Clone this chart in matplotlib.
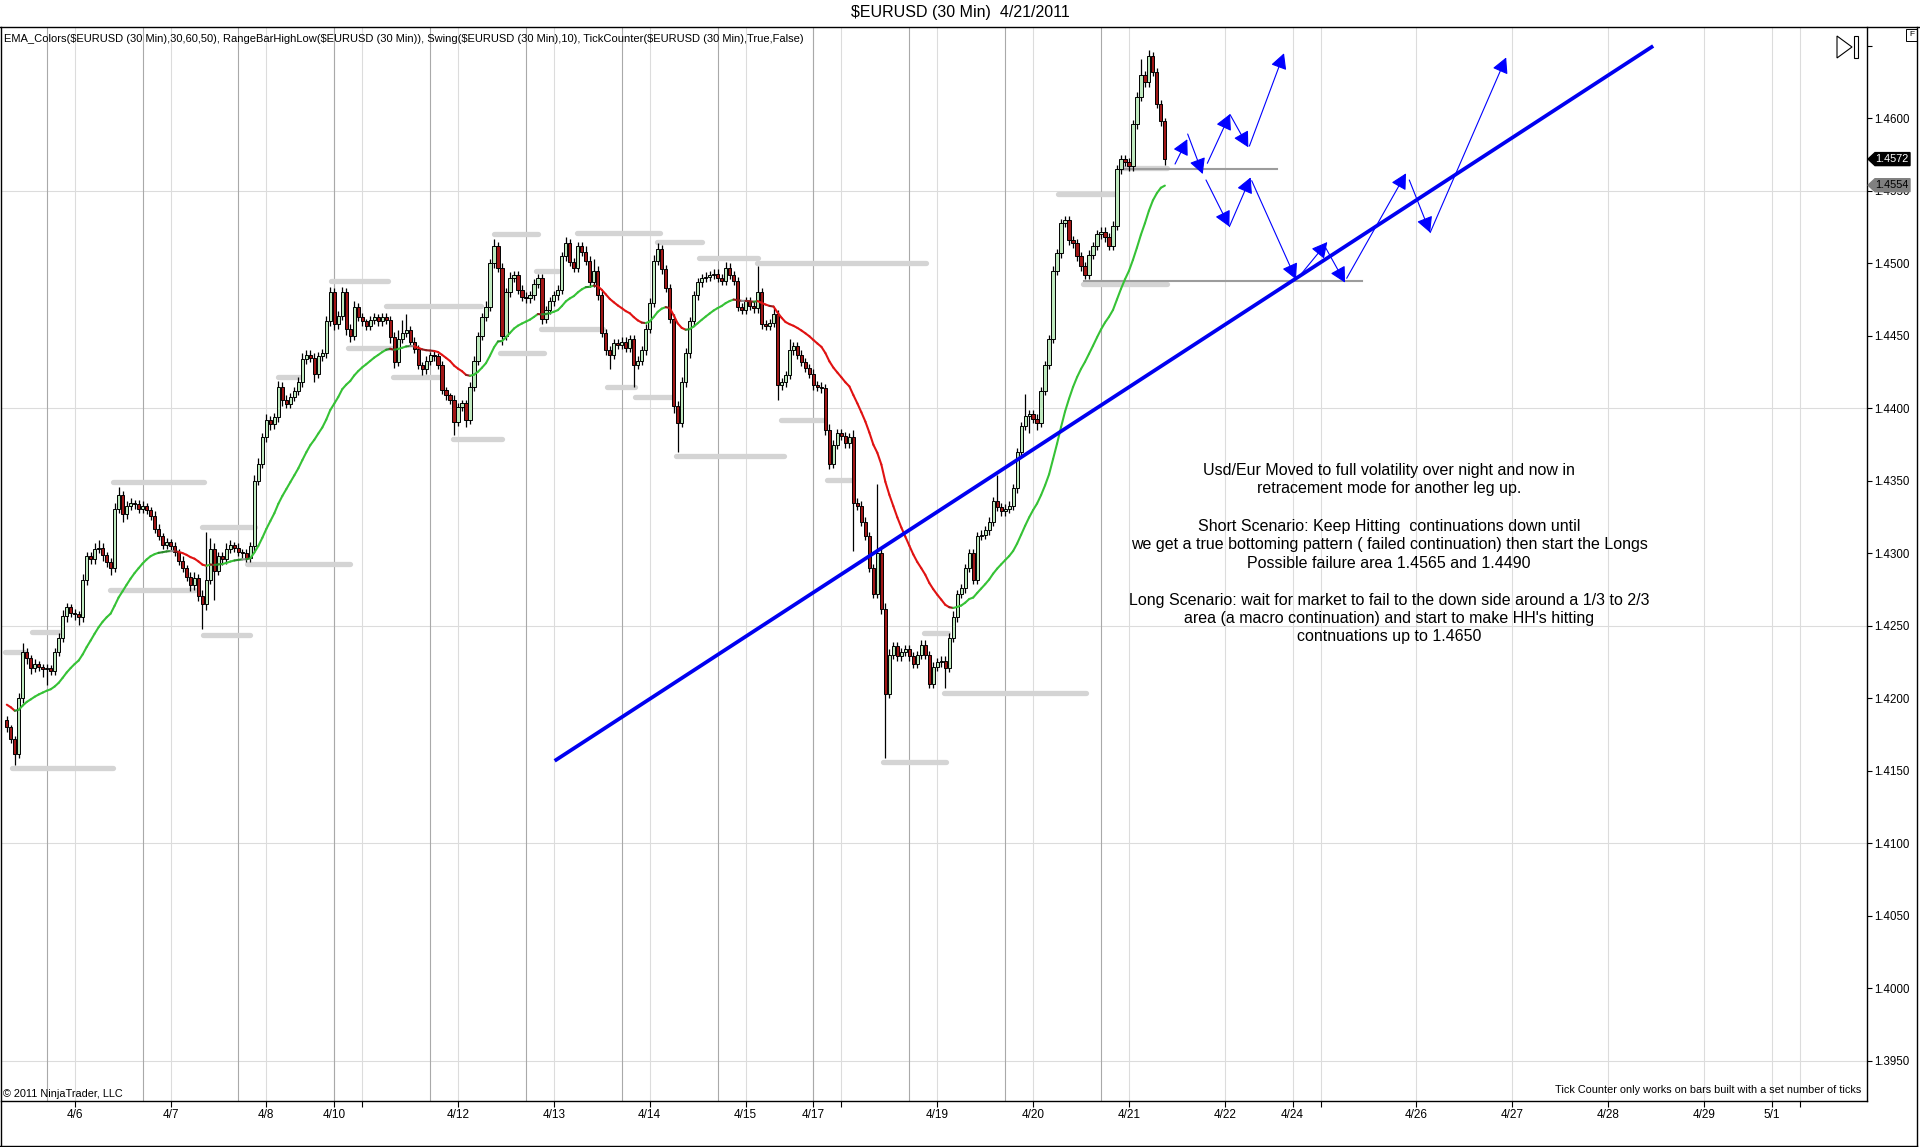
import numpy as np
import pandas as pd
import matplotlib
matplotlib.use("Agg")
import matplotlib.pyplot as plt
from matplotlib.patches import Rectangle, Polygon, FancyArrowPatch
from matplotlib.collections import LineCollection
from matplotlib.lines import Line2D

plt.rcParams['font.family'] = ['Liberation Sans', 'DejaVu Sans']

# ------------------------------------------------------------------ data
title_text = "$EURUSD (30 Min)  4/21/2011"
indicator_text = ("EMA_Colors($EURUSD (30 Min),30,60,50), RangeBarHighLow($EURUSD (30 Min)), "
                  "Swing($EURUSD (30 Min),10), TickCounter($EURUSD (30 Min),True,False)")
copyright_text = "\u00a9 2011 NinjaTrader, LLC"
tickcounter_text = "Tick Counter only works on bars built with a set number of ticks"

origin_time = "2011-04-05 00:00"
first_bar_time = "2011-04-05 07:00"
first_open = 1.4185

close = [
    1.4180, 1.4172, 1.4162, 1.4200, 1.4232, 1.4228, 1.4221, 1.4224, 1.4222, 1.4220, 1.4221, 1.4219,
    1.4232, 1.4242, 1.4257, 1.4263, 1.4259, 1.4258, 1.4256, 1.4282, 1.4298, 1.4296, 1.4303, 1.4304,
    1.4299, 1.4294, 1.4290, 1.4331, 1.4340, 1.4327, 1.4333, 1.4335, 1.4334, 1.4331, 1.4333, 1.4330,
    1.4326, 1.4317, 1.4312, 1.4306, 1.4308, 1.4305, 1.4301, 1.4295, 1.4290, 1.4284, 1.4278, 1.4283,
    1.4271, 1.4265, 1.4282, 1.4303, 1.4288, 1.4298, 1.4296, 1.4303, 1.4306, 1.4304, 1.4301, 1.4300,
    1.4297, 1.4305, 1.4350, 1.4362, 1.4380, 1.4392, 1.4389, 1.4394, 1.4415, 1.4406, 1.4403, 1.4408,
    1.4412, 1.4418, 1.4434, 1.4437, 1.4435, 1.4424, 1.4436, 1.4438, 1.4460, 1.4480, 1.4458, 1.4464,
    1.4480, 1.4455, 1.4450, 1.4470, 1.4463, 1.4460, 1.4457, 1.4461, 1.4463, 1.4460, 1.4463, 1.4461,
    1.4449, 1.4432, 1.4448, 1.4452, 1.4454, 1.4446, 1.4441, 1.4430, 1.4427, 1.4433, 1.4437, 1.4436,
    1.4430, 1.4413, 1.4409, 1.4406, 1.4391, 1.4401, 1.4404, 1.4392, 1.4415, 1.4433, 1.4450, 1.4463,
    1.4470, 1.4500, 1.4512, 1.4497, 1.4450, 1.4480, 1.4490, 1.4492, 1.4482, 1.4477, 1.4476, 1.4478,
    1.4486, 1.4490, 1.4462, 1.4468, 1.4474, 1.4478, 1.4482, 1.4505, 1.4514, 1.4501, 1.4497, 1.4512,
    1.4508, 1.4502, 1.4487, 1.4495, 1.4478, 1.4452, 1.4440, 1.4437, 1.4445, 1.4444, 1.4446, 1.4442,
    1.4448, 1.4430, 1.4433, 1.4440, 1.4455, 1.4473, 1.4502, 1.4510, 1.4496, 1.4483, 1.4462, 1.4402,
    1.4390, 1.4418, 1.4438, 1.4460, 1.4478, 1.4487, 1.4490, 1.4491, 1.4492, 1.4493, 1.4490, 1.4488,
    1.4497, 1.4492, 1.4488, 1.4470, 1.4468, 1.4474, 1.4471, 1.4469, 1.4480, 1.4458, 1.4457, 1.4459,
    1.4465, 1.4416, 1.4418, 1.4423, 1.4440, 1.4443, 1.4437, 1.4432, 1.4428, 1.4424, 1.4416, 1.4415,
    1.4414, 1.4385, 1.4362, 1.4375, 1.4383, 1.4381, 1.4376, 1.4380, 1.4335, 1.4333, 1.4322, 1.4312,
    1.4290, 1.4272, 1.4300, 1.4262, 1.4203, 1.4230, 1.4236, 1.4229, 1.4232, 1.4234, 1.4229, 1.4224,
    1.4230, 1.4237, 1.4230, 1.4210, 1.4222, 1.4225, 1.4226, 1.4221, 1.4242, 1.4256, 1.4272, 1.4276,
    1.4290, 1.4300, 1.4282, 1.4312, 1.4313, 1.4316, 1.4322, 1.4336, 1.4332, 1.4329, 1.4331, 1.4333,
    1.4345, 1.4370, 1.4388, 1.4395, 1.4396, 1.4393, 1.4390, 1.4412, 1.4430, 1.4448, 1.4495, 1.4507,
    1.4528, 1.4530, 1.4516, 1.4514, 1.4505, 1.4498, 1.4492, 1.4506, 1.4512, 1.4520, 1.4522, 1.4518,
    1.4512, 1.4526, 1.4565, 1.4572, 1.4570, 1.4567, 1.4596, 1.4615, 1.4630, 1.4625, 1.4643, 1.4632,
    1.4610, 1.4598, 1.4572,
]

wick_up_pips = [
    3, 2, 2, 4, 6, 3, 2, 3, 2, 2, 3, 2,
    3, 3, 4, 3, 2, 3, 2, 4, 3, 3, 4, 5,
    3, 2, 3, 4, 6, 3, 3, 3, 2, 3, 3, 2,
    2, 3, 3, 2, 3, 2, 3, 2, 3, 2, 3, 4,
    3, 4, 33, 8, 4, 3, 3, 4, 3, 2, 3, 2,
    3, 3, 4, 4, 3, 4, 3, 3, 4, 3, 3, 3,
    3, 4, 4, 3, 3, 3, 3, 3, 4, 4, 3, 3,
    4, 3, 3, 4, 3, 3, 2, 3, 3, 2, 3, 3,
    3, 4, 6, 9, 11, 3, 3, 3, 2, 3, 2, 3,
    2, 3, 2, 2, 3, 3, 2, 2, 3, 3, 3, 3,
    4, 3, 5, 3, 3, 3, 4, 3, 3, 3, 3, 3,
    3, 3, 3, 3, 3, 3, 3, 3, 4, 3, 3, 3,
    3, 4, 3, 8, 3, 3, 3, 3, 3, 3, 3, 3,
    3, 3, 3, 3, 3, 3, 4, 4, 3, 3, 3, 3,
    3, 4, 4, 3, 3, 3, 3, 3, 3, 3, 3, 3,
    4, 3, 3, 3, 3, 3, 3, 3, 18, 3, 3, 3,
    4, 3, 3, 3, 8, 3, 3, 3, 3, 3, 3, 3,
    3, 3, 4, 3, 3, 3, 3, 3, 5, 3, 3, 3,
    3, 3, 48, 3, 4, 4, 3, 3, 3, 3, 3, 3,
    3, 3, 3, 3, 3, 3, 3, 3, 3, 4, 3, 3,
    3, 3, 3, 3, 3, 3, 3, 3, 18, 3, 3, 3,
    3, 3, 3, 15, 3, 3, 3, 3, 3, 3, 3, 3,
    3, 3, 3, 3, 3, 3, 3, 3, 3, 3, 3, 3,
    3, 3, 3, 3, 3, 3, 3, 3, 11, 3, 4, 3,
    3, 3, 2,
]

wick_dn_pips = [
    3, 3, 8, 3, 3, 4, 4, 3, 3, 5, 11, 3,
    3, 3, 3, 4, 3, 4, 5, 3, 4, 3, 3, 3,
    4, 3, 5, 3, 3, 5, 3, 3, 3, 3, 3, 3,
    3, 3, 3, 3, 3, 3, 3, 3, 3, 3, 4, 3,
    4, 17, 4, 3, 20, 3, 4, 3, 3, 3, 3, 3,
    3, 3, 3, 3, 3, 3, 4, 3, 3, 4, 3, 3,
    3, 3, 3, 3, 3, 6, 3, 3, 3, 3, 4, 3,
    3, 4, 4, 3, 3, 3, 3, 3, 3, 3, 3, 3,
    4, 4, 3, 3, 3, 3, 3, 3, 4, 3, 3, 3,
    3, 3, 3, 3, 9, 3, 3, 5, 3, 3, 3, 3,
    3, 3, 3, 3, 6, 3, 3, 3, 3, 3, 3, 3,
    3, 3, 4, 3, 3, 3, 3, 3, 3, 3, 3, 3,
    3, 3, 3, 3, 3, 3, 3, 10, 3, 3, 3, 3,
    3, 15, 3, 3, 3, 3, 3, 3, 3, 3, 3, 5,
    20, 3, 3, 3, 3, 3, 3, 3, 3, 3, 3, 3,
    3, 3, 3, 3, 3, 3, 3, 3, 3, 3, 3, 3,
    3, 10, 3, 3, 3, 3, 3, 3, 3, 3, 3, 3,
    3, 3, 4, 3, 3, 3, 3, 3, 33, 3, 3, 3,
    3, 3, 3, 4, 44, 3, 3, 3, 3, 3, 3, 3,
    3, 3, 3, 3, 3, 3, 3, 14, 3, 3, 3, 3,
    3, 3, 3, 3, 3, 3, 3, 3, 3, 3, 3, 3,
    3, 3, 3, 3, 12, 3, 5, 3, 3, 3, 3, 3,
    3, 3, 3, 3, 3, 3, 3, 3, 3, 3, 3, 3,
    3, 3, 3, 3, 3, 3, 3, 3, 3, 3, 3, 3,
    3, 3, 4,
]

ema_seed = 1.4197
ema_alpha = 0.075

weekend_gaps = [
    ("2011-04-08 17:00", "2011-04-10 17:00"),
    ("2011-04-15 17:00", "2011-04-17 17:00"),
    ("2011-04-22 17:00", "2011-04-24 17:00"),
    ("2011-04-29 17:00", "2011-05-01 17:00"),
]

x_tick_times = [
    "2011-04-06 00:00", "2011-04-07 00:00", "2011-04-08 00:00", "2011-04-10 17:00",
    "2011-04-11 00:00", "2011-04-12 00:00", "2011-04-13 00:00", "2011-04-14 00:00",
    "2011-04-15 00:00", "2011-04-17 17:00", "2011-04-18 00:00", "2011-04-19 00:00",
    "2011-04-20 00:00", "2011-04-21 00:00", "2011-04-22 00:00", "2011-04-24 17:00",
    "2011-04-25 00:00", "2011-04-26 00:00", "2011-04-27 00:00", "2011-04-28 00:00",
    "2011-04-29 00:00", "2011-05-01 17:00", "2011-05-02 00:00",
]
x_tick_labels = [
    "4/6", "4/7", "4/8", "4/10", "", "4/12", "4/13", "4/14", "4/15", "4/17", "",
    "4/19", "4/20", "4/21", "4/22", "4/24", "", "4/26", "4/27", "4/28", "4/29", "5/1", "",
]
session_times = [
    "2011-04-05 17:00", "2011-04-06 17:00", "2011-04-07 17:00", "2011-04-10 17:00",
    "2011-04-11 17:00", "2011-04-12 17:00", "2011-04-13 17:00", "2011-04-14 17:00",
    "2011-04-17 17:00", "2011-04-18 17:00", "2011-04-19 17:00", "2011-04-20 17:00",
]

y_tick_values = [1.3950, 1.4000, 1.4050, 1.4100, 1.4150, 1.4200, 1.4250, 1.4300,
                 1.4350, 1.4400, 1.4450, 1.4500, 1.4550, 1.4600, 1.4650]
y_tick_labels = ["1.3950", "1.4000", "1.4050", "1.4100", "1.4150", "1.4200", "1.4250", "1.4300",
                 "1.4350", "1.4400", "1.4450", "1.4500", "1.4550", "1.4600", ""]
y_grid_values = [1.3950, 1.4100, 1.4250, 1.4400, 1.4550]

# swing lines: price, start hour, end hour (hours on the compressed trading clock from origin)
swing_price = [1.4152, 1.4232, 1.4246, 1.4349, 1.4275, 1.4318, 1.4244, 1.4293, 1.4422, 1.4488,
               1.4471, 1.4442, 1.4422, 1.4379, 1.4520, 1.4438, 1.4495, 1.4455, 1.4521, 1.4415,
               1.4408, 1.4515, 1.4504, 1.4500, 1.4367, 1.4392, 1.4351, 1.4156, 1.4245, 1.4204,
               1.4548, 1.4486, 1.4566]
swing_start_h = [8.4, 6.5, 13.3, 33.5, 32.9, 55.9, 56.2, 67.2, 74.9, 88.1,
                 101.9, 92.4, 103.7, 118.7, 128.9, 130.4, 139.6, 140.8, 149.7, 157.4,
                 164.4, 169.9, 180.4, 194.8, 174.5, 200.9, 212.3, 226.4, 236.8, 241.7,
                 270.2, 276.6, 286.0]
swing_end_h = [33.5, 11.4, 20.3, 56.5, 54.1, 69.1, 67.8, 93.0, 80.7, 102.5,
               125.8, 103.4, 116.0, 131.0, 139.9, 141.4, 145.1, 156.4, 170.6, 164.4,
               173.9, 181.0, 195.1, 237.1, 201.5, 212.0, 219.0, 242.3, 242.6, 277.2,
               284.6, 297.5, 297.5]

# user drawn horizontal lines: price, start day, end day
hline_price = [1.4565, 1.4488]
hline_start_d = [11.92, 11.53]
hline_end_d = [13.54, 14.43]

# trend line (day, price)
trend_d = [6.008, 17.47]
trend_p = [1.4157, 1.4650]

# projected path arrows: (start day, start price, end day, end price)
arrow_d0 = [12.481, 12.613, 12.818, 13.055, 13.257, 12.804, 13.048, 13.281, 13.803, 14.046, 14.272, 14.925, 15.143]
arrow_p0 = [1.45686, 1.45893, 1.45691, 1.46027, 1.45810, 1.45576, 1.45254, 1.45571, 1.44932, 1.45116, 1.44898, 1.45576, 1.45213]
arrow_d1 = [12.609, 12.770, 13.055, 13.246, 13.618, 13.048, 13.270, 13.743, 14.070, 14.255, 14.891, 15.143, 15.936]
arrow_p1 = [1.45857, 1.45617, 1.46031, 1.45801, 1.46450, 1.45254, 1.45594, 1.44891, 1.45148, 1.44868, 1.45622, 1.45213, 1.46421]

note_lines = [
    "Usd/Eur Moved to full volatility over night and now in",
    "retracement mode for another leg up.",
    "Short Scenario: Keep Hitting  continuations down until",
    "we get a true bottoming pattern ( failed continuation) then start the Longs",
    "Possible failure area 1.4565 and 1.4490",
    "Long Scenario: wait for market to fail to the down side around a 1/3 to 2/3",
    "area (a macro continuation) and start to make HH's hitting",
    "contnuations up to 1.4650",
]

# ------------------------------------------------------------------ helpers
t0 = pd.Timestamp(origin_time)
gaps = [(pd.Timestamp(a), pd.Timestamp(b)) for a, b in weekend_gaps]


def compress(ts):
    ts = pd.Timestamp(ts)
    d = (ts - t0).total_seconds() / 86400.0
    for a, b in gaps:
        if ts >= b:
            d -= (b - a).total_seconds() / 86400.0
        elif ts > a:
            d -= (ts - a).total_seconds() / 86400.0
    return d


n = len(close)
times = []
t = pd.Timestamp(first_bar_time)
while len(times) < n:
    inside = any(a <= t < b for a, b in gaps)
    if not inside:
        times.append(t)
    t += pd.Timedelta(hours=1)
xs = np.array([compress(tt) for tt in times])

c = np.array(close)
o = np.array([first_open] + close[:-1])
hi = np.maximum(o, c) + np.array(wick_up_pips) * 1e-4
lo = np.minimum(o, c) - np.array(wick_dn_pips) * 1e-4

ema = np.empty(n)
e = ema_seed
for i in range(n):
    e = e + ema_alpha * (c[i] - e)
    ema[i] = e

# ------------------------------------------------------------------ figure
W, H = 1920, 1147
fig = plt.figure(figsize=(W / 100, H / 100), dpi=100)
fig.patch.set_facecolor("white")


def fx(px):
    return px / W


def fy(py):
    return 1 - py / H


AX_L, AX_R, AX_T, AX_B = 1, 1867, 27, 1101
ax = fig.add_axes([fx(AX_L), fy(AX_B), (AX_R - AX_L) / W, (AX_B - AX_T) / H])
XMIN, XMAX = 0.2311, 19.701
YMIN, YMAX = 1.39224, 1.46631
ax.set_xlim(XMIN, XMAX)
ax.set_ylim(YMIN, YMAX)
ax.set_facecolor("white")


def ypx(p):
    return AX_T + (YMAX - p) / (YMAX - YMIN) * (AX_B - AX_T)


# grid
for gv in y_grid_values:
    ax.axhline(gv, color="#dcdcdc", lw=0.8, zorder=0.5)
tick_x = [compress(tt) for tt in x_tick_times]
for tx in tick_x:
    ax.axvline(tx, color="#dcdcdc", lw=0.8, zorder=0.5)
for st in session_times:
    ax.axvline(compress(st), color="#a9a9a9", lw=0.8, zorder=0.6)

# swing lines
for p, s, e_ in zip(swing_price, swing_start_h, swing_end_h):
    ax.plot([s / 24.0, e_ / 24.0], [p, p], color="#d4d4d4", lw=3.8,
            solid_capstyle="round", zorder=2)

# user horizontal lines
for p, s, e_ in zip(hline_price, hline_start_d, hline_end_d):
    ax.plot([s, e_], [p, p], color="#9c9c9c", lw=1.5, zorder=2.5)

# candles
up = c >= o
ax.vlines(xs, lo, hi, color="black", lw=0.9, zorder=3)
body_h = np.maximum(np.abs(c - o), 0.00005)
ax.bar(xs, body_h, bottom=np.minimum(o, c), width=0.8 / 24,
       color=np.where(up, "#bfe9bf", "#a01616"), edgecolor="black",
       linewidth=0.7, zorder=4)

# EMA coloured by slope
pts = np.column_stack([xs, ema])
segs = np.stack([pts[:-1], pts[1:]], axis=1)
slope = np.diff(ema) * 1e4
cols = []
for s in slope:
    if s > 0.7:
        cols.append("#36c236")
    elif s > 0.2:
        cols.append("#2a8a2a")
    elif s >= -0.2:
        cols.append("#8c8c8c")
    elif s >= -0.7:
        cols.append("#8e1c1c")
    else:
        cols.append("#e01212")
ax.add_collection(LineCollection(segs, colors=cols, linewidths=1.5, zorder=5,
                                 capstyle="round"))

# trend line
ax.plot(trend_d, trend_p, color="#0000f0", lw=2.7, zorder=6, solid_capstyle="butt")

# arrows
for d0, p0, d1, p1 in zip(arrow_d0, arrow_p0, arrow_d1, arrow_p1):
    arr = FancyArrowPatch((d0, p0), (d1, p1),
                          arrowstyle="-|>,head_length=9.5,head_width=5",
                          mutation_scale=1, color="#0000ff", lw=0.8,
                          shrinkA=0, shrinkB=0, zorder=7)
    ax.add_patch(arr)

# notes
note_y = [470, 489, 527, 545, 564, 600, 619, 637]
for line, yy in zip(note_lines, note_y):
    fig.text(fx(1389), fy(yy), line, ha="center", va="center", fontsize=11.5,
             color="black", parse_math=False)

# axes styling
for sp in ["left", "top"]:
    ax.spines[sp].set_visible(False)
for sp in ["right", "bottom"]:
    ax.spines[sp].set_color("black")
    ax.spines[sp].set_linewidth(1.0)

ax.yaxis.tick_right()
ax.set_yticks(y_tick_values)
ax.set_yticklabels(y_tick_labels)
ax.tick_params(axis="y", direction="out", length=3.6, width=0.8, pad=1.5,
               labelsize=8.3, colors="black")
ax.set_xticks(tick_x)
ax.set_xticklabels(x_tick_labels)
ax.tick_params(axis="x", direction="out", length=4.3, width=0.8, pad=1.5,
               labelsize=8.5, colors="black")

# frame lines
frame_kw = dict(transform=fig.transFigure, color="black", lw=1.0)
fig.add_artist(Line2D([fx(0), fx(1919)], [fy(27), fy(27)], **frame_kw))
fig.add_artist(Line2D([fx(0.5), fx(0.5)], [fy(27), fy(1146)], **frame_kw))
fig.add_artist(Line2D([fx(1917), fx(1917)], [fy(27), fy(1146)], **frame_kw))
fig.add_artist(Line2D([fx(0), fx(1917)], [fy(1145.5), fy(1145.5)], **frame_kw))

# title & captions
fig.text(0.5, fy(13), title_text, ha="center", va="center", fontsize=11.5, parse_math=False)
fig.text(fx(4), fy(39), indicator_text, ha="left", va="center", fontsize=8.0, parse_math=False)
fig.text(fx(3), fy(1094), copyright_text, ha="left", va="center", fontsize=7.8, parse_math=False)
fig.text(fx(1861), fy(1090), tickcounter_text, ha="right", va="center", fontsize=7.8,
         parse_math=False)

# go-to-end icon and F box
fig.add_artist(Polygon([(fx(1837), fy(36)), (fx(1837), fy(58)), (fx(1852), fy(47))],
                       closed=True, fill=False, edgecolor="black", lw=0.8,
                       transform=fig.transFigure))
fig.add_artist(Rectangle((fx(1854), fy(58)), fx(4), 22 / H, fill=False,
                         edgecolor="black", lw=0.8, transform=fig.transFigure))
fig.add_artist(Rectangle((fx(1906), fy(41)), fx(11), 12 / H, fill=False,
                         edgecolor="black", lw=0.7, transform=fig.transFigure))
fig.text(fx(1911.5), fy(35), "F", ha="center", va="center", fontsize=6)


# price markers
def price_marker(p, face, txtcol):
    yc = ypx(p)
    hh = 6.5
    poly = [(fx(1868), fy(yc)), (fx(1875), fy(yc - hh)), (fx(1910), fy(yc - hh)),
            (fx(1910), fy(yc + hh)), (fx(1875), fy(yc + hh))]
    fig.add_artist(Polygon(poly, closed=True, facecolor=face, edgecolor=face,
                           transform=fig.transFigure, zorder=10))
    fig.text(fx(1892), fy(yc), "%.4f" % p, ha="center", va="center",
             fontsize=7.8, color=txtcol, zorder=11)


price_marker(round(float(ema[-1]), 4), "#808080", "black")
price_marker(round(float(c[-1]), 4), "black", "white")

fig.savefig("out.png", dpi=100)
